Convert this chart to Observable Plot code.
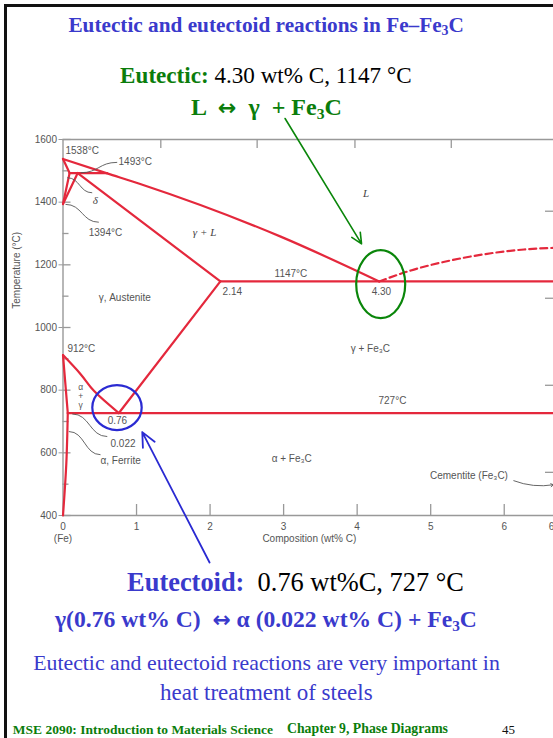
<!DOCTYPE html>
<html><head><meta charset="utf-8">
<script src="https://cdn.jsdelivr.net/npm/d3@7"></script>
<script src="https://cdn.jsdelivr.net/npm/@observablehq/plot@0.6"></script>
<style>
html,body{margin:0;padding:0;background:#fff;}
#page{position:relative;width:553px;height:738px;overflow:hidden;background:#fff;}
#chart{position:absolute;left:0;top:0;}
.line{position:absolute;white-space:nowrap;line-height:1;font-family:"Liberation Serif","Times New Roman",serif;}
.line sub{font-size:0.65em;vertical-align:-0.25em;line-height:0;}
.b{font-weight:bold;}
.arr{font-family:"DejaVu Sans",sans-serif;font-weight:bold;font-size:0.92em;}
#bt{position:absolute;left:4px;top:4px;width:560px;height:3px;background:#111;}
#bl{position:absolute;left:4px;top:4px;width:3px;height:740px;background:#111;}
</style></head><body><div id="page"><div id="chart"></div><div id="bt"></div><div id="bl"></div></div>
<script>
// ---- axis ticks ----
const xTicks = [0, 1, 2, 3, 4, 5, 6];
const xTickLabels = [0, 1, 2, 3, 4, 5, 6, 6.7];
const yTicks = [400, 600, 800, 1000, 1200, 1400, 1600];
const yMinor = [500, 700, 900, 1100, 1300, 1500];
const topTicks = [1.33, 2.64, 3.97, 5.28];
const rightTicksF = [1000, 1500, 2000, 2500];

// ---- phase boundaries (wt% C, °C) ----
const liquidus = [[0,1538],[0.6,1492],[1.05,1458],[2.96,1290],[4.3,1147]];
const liquidusFe3C = [[4.3,1147],[4.73,1182],[5.27,1214],[5.82,1237],[6.27,1249],[6.67,1254]];
const deltaSolidus = [[0,1538],[0.09,1493]];
const deltaSolvus = [[0.09,1493],[0,1394]];
const peritectic = [[0.09,1493],[0.6,1493]];
const gammaDelta = [[0.2,1493],[0,1394]];
const solidus = [[0.2,1493],[2.14,1147]];
const eutecticLine = [[2.14,1147],[6.67,1147]];
const acm = [[2.14,1147],[0.76,727]];
const a3 = [[0,912],[0.24,851],[0.42,798],[0.76,727]];
const alphaGamma = [[0,912],[0.065,727]];
const alphaSolvus = [[0.065,727],[0.045,565],[0,400]];
const eutectoidLine = [[0.065,727],[6.67,727]];

// ---- in-chart labels ----
const labelsStart = [
  {x:0.034, y:1565, t:"1538°C"},
  {x:0.755, y:1530, t:"1493°C"},
  {x:0.35, y:1303, t:"1394°C"},
  {x:2.17, y:1115, t:"2.14"},
  {x:0.06, y:933, t:"912°C"},
  {x:0.646, y:630, t:"0.022"},
  {x:0.51, y:575, t:"α, Ferrite"},
  {x:4.99, y:528, t:"Cementite (Fe₃C)"}
];
const labelsMiddle = [
  {x:3.10, y:1172, t:"1147°C"},
  {x:4.33, y:1115, t:"4.30"},
  {x:0.84, y:1096, t:"γ, Austenite"},
  {x:4.18, y:933, t:"γ + Fe₃C"},
  {x:4.48, y:767, t:"727°C"},
  {x:0.74, y:703, t:"0.76"},
  {x:3.11, y:582, t:"α + Fe₃C"}
];
const labelsStack = [
  {x:0.24, y:808, t:"α"},
  {x:0.24, y:780, t:"+"},
  {x:0.24, y:751, t:"γ"}
];
const labelsItalic = [
  {x:0.44, y:1405, t:"δ"},
  {x:1.925, y:1303, t:"γ + L"},
  {x:4.12, y:1428, t:"L"}
];
const leaders = [
  {x1:0.238, y1:1494, x2:0.737, y2:1527},
  {x1:0.057, y1:1478, x2:0.397, y2:1430},
  {x1:0.034, y1:1393, x2:0.487, y2:1336},
  {x1:0.126, y1:724, x2:0.602, y2:652},
  {x1:0.079, y1:668, x2:0.51, y2:594}
];
const cementiteLeader = [{x1:6.13, y1:511, x2:6.67, y2:498}];

// ---- annotations ----
const greenArrow = [{x1:3.02, y1:1667, x2:4.06, y2:1267}];
const blueArrow = [{x1:1.993, y1:250, x2:1.078, y2:666}];
const greenRing = {x:4.327, y:1137};
const blueRing = {x:0.741, y:743};

const RED = "#e4283c", AX = "#999", GREEN = "#0a860a", BLUE = "#2a2ad2";
const pts = a => a.map(([x,y]) => ({x,y}));
const curveLine = (a, o={}) => Plot.line(pts(a), {x:"x", y:"y", stroke:RED, strokeWidth:2.2, ...o});

const frameW = 553 - 62.5, frameH = 560 - 139 - 45;

const plot = Plot.plot({
  width:553, height:560, marginLeft:62.5, marginRight:0, marginTop:139, marginBottom:45,
  x:{domain:[0,6.67]}, y:{domain:[400,1600]},
  style:{fontFamily:"'Liberation Sans', Arial, sans-serif", fontSize:"10px", color:"#555", background:"transparent", overflow:"visible"},
  marks:[
    Plot.ruleY([400,1600], {stroke:AX, strokeWidth:1.4}),
    Plot.ruleX([0], {stroke:AX, strokeWidth:1.4}),
    Plot.axisY(yTicks, {tickSize:4, tickPadding:2, stroke:AX, fill:"#555", label:null, tickFormat:d=>String(d)}),
    Plot.axisX(xTickLabels, {tickSize:0, tickPadding:7, fill:"#555", label:null, tickFormat:d=>String(d)}),
    Plot.tickX(xTicks.slice(1), {x:d=>d, insetTop:frameH-11, stroke:AX, strokeWidth:1.3}),
    Plot.tickX(topTicks, {x:d=>d, insetBottom:frameH-9, stroke:AX, strokeWidth:1.3}),
    Plot.tickY(yTicks, {y:d=>d, insetRight:frameW-8, stroke:AX, strokeWidth:1.3}),
    Plot.tickY(yMinor, {y:d=>d, insetRight:frameW-6, stroke:AX, strokeWidth:1.3}),
    Plot.tickY(rightTicksF, {y:f=>(f-32)*5/9, insetLeft:frameW-8, stroke:AX, strokeWidth:1.3}),
    Plot.text(["(Fe)"], {x:0, frameAnchor:"bottom", dy:26, fill:"#555"}),
    Plot.text(["Composition (wt% C)"], {x:3.35, frameAnchor:"bottom", dy:26, fill:"#555"}),
    Plot.text(["Temperature (°C)"], {y:1060, frameAnchor:"left", dx:-46, rotate:-90, fill:"#555"}),
    // phase boundaries
    curveLine(liquidus, {curve:"monotone-x"}),
    curveLine(liquidusFe3C, {curve:"monotone-x", strokeDasharray:"7,4"}),
    curveLine(deltaSolidus), curveLine(deltaSolvus), curveLine(peritectic),
    curveLine(gammaDelta), curveLine(solidus), curveLine(eutecticLine),
    curveLine(acm), curveLine(a3, {curve:"catmull-rom"}), curveLine(alphaGamma),
    curveLine(alphaSolvus, {curve:"catmull-rom"}), curveLine(eutectoidLine),
    // labels
    Plot.link(leaders, {x1:"x1", y1:"y1", x2:"x2", y2:"y2", stroke:"#555", strokeWidth:0.9, curve:"bump-x"}),
    Plot.arrow(cementiteLeader, {x1:"x1", y1:"y1", x2:"x2", y2:"y2", stroke:"#555", strokeWidth:0.9, headLength:5, bend:-15}),
    Plot.text(labelsStart, {x:"x", y:"y", text:"t", textAnchor:"start", fill:"#555"}),
    Plot.text(labelsMiddle, {x:"x", y:"y", text:"t", fill:"#555"}),
    Plot.text(labelsStack, {x:"x", y:"y", text:"t", fill:"#555", fontSize:8.5}),
    Plot.text(labelsItalic, {x:"x", y:"y", text:"t", fill:"#444", fontStyle:"italic", fontFamily:"'Liberation Serif', serif", fontSize:11}),
    // annotations
    Plot.arrow(greenArrow, {x1:"x1", y1:"y1", x2:"x2", y2:"y2", stroke:GREEN, strokeWidth:1.6, headLength:11, headAngle:50}),
    Plot.arrow(blueArrow, {x1:"x1", y1:"y1", x2:"x2", y2:"y2", stroke:BLUE, strokeWidth:1.8, headLength:13, headAngle:50})
  ]
});

const sx = plot.scale("x"), sy = plot.scale("y");
const svg = d3.select(plot);
svg.append("ellipse").attr("cx", sx.apply(greenRing.x)).attr("cy", sy.apply(greenRing.y))
  .attr("rx", 24.5).attr("ry", 34).attr("fill", "none").attr("stroke", GREEN).attr("stroke-width", 2.2);
svg.append("ellipse").attr("cx", sx.apply(blueRing.x)).attr("cy", sy.apply(blueRing.y))
  .attr("rx", 24.7).attr("ry", 22.5).attr("fill", "none").attr("stroke", BLUE).attr("stroke-width", 2.2);
document.getElementById("chart").appendChild(plot);

// ---- slide text ----
const TBLUE = "#3a3acc", TGREEN = "#0b7d0b";
const lines = [
  {html:`<span class="b" style="color:${TBLUE}">Eutectic and eutectoid reactions in Fe–Fe<sub>3</sub>C</span>`, left:68.3, right:464, base:33},
  {html:`<span class="b" style="color:${TGREEN}">Eutectic:</span> 4.30 wt% C, 1147 °C`, left:120, right:411.7, base:83},
  {html:`<span class="b" style="color:${TGREEN}">L &nbsp;<span class="arr">↔</span> &nbsp;γ &nbsp;+ Fe<sub>3</sub>C</span>`, left:191, right:342, base:115.5},
  {html:`<span class="b" style="color:${TBLUE}">Eutectoid:</span>&nbsp; 0.76 wt%C, 727 °C`, left:127, right:464, base:591},
  {html:`<span class="b" style="color:${TBLUE}">γ(0.76 wt% C) &nbsp;<span class="arr">↔</span> α (0.022 wt% C) + Fe<sub>3</sub>C</span>`, left:55, right:477, base:627.5},
  {html:`<span style="color:${TBLUE}">Eutectic and eutectoid reactions are very important in</span>`, left:33, right:500, base:671.5},
  {html:`<span style="color:${TBLUE}">heat treatment of steels</span>`, left:160, right:372.7, base:700},
  {html:`<span class="b" style="color:${TGREEN}">MSE 2090: Introduction to Materials Science</span>`, left:12.7, right:273, base:734},
  {html:`<span class="b" style="color:${TGREEN}">Chapter 9, Phase Diagrams</span>`, left:287, right:448, base:734},
  {html:`<span style="color:#111">45</span>`, left:502, right:515, base:734}
];
const page = document.getElementById("page");
for (const L of lines) {
  const el = document.createElement("div");
  el.className = "line"; el.innerHTML = L.html; el.style.fontSize = "20px";
  page.appendChild(el);
  const w = el.getBoundingClientRect().width;
  const size = 20 * (L.right - L.left) / w;
  el.style.fontSize = size + "px";
  const w2 = el.getBoundingClientRect().width;
  el.style.left = (L.left + (L.right - L.left - w2) / 2) + "px";
  el.style.top = (L.base - 0.8375 * size) + "px";
}
</script></body></html>
